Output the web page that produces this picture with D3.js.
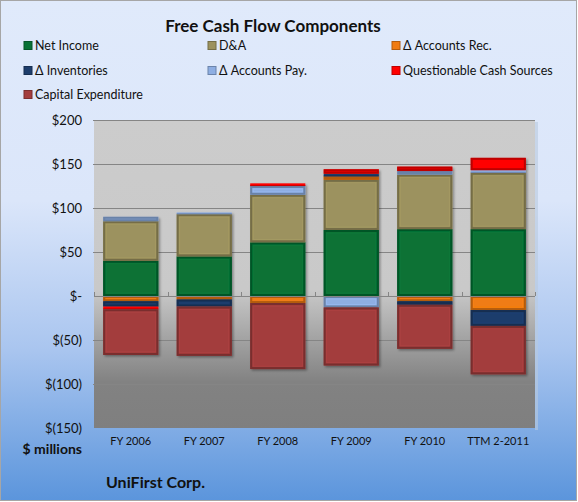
<!DOCTYPE html>
<html><head><meta charset="utf-8">
<script src="https://cdn.jsdelivr.net/npm/d3@7"></script>
<style>body{margin:0;background:#fff}svg{display:block}</style>
</head><body>
<script>
const categories = ["FY 2006","FY 2007","FY 2008","FY 2009","FY 2010","TTM 2-2011"];
const netIncome = [40, 45, 61, 75, 76, 76];
const depAmort = [45, 48, 54, 57, 62, 64];
const accountsRec = [-6, -4, -8, 4, -6, -16];
const inventories = [-6, -8, 0, 3, -4, -18];
const accountsPay = [5, 2, 10, -13, 4, 3];
const questionable = [-3, 0, 3, 5, 5, 14];
const capex = [-52, -56, -75, -66, -50, -55];
const seriesNames = ["Net Income","D&A","Δ Accounts Rec.","Δ Inventories","Δ Accounts Pay.","Questionable Cash Sources","Capital Expenditure"];
const seriesColors = ["#087236","#9c925e","#f07b12","#1d3d6c","#8eaee2","#ff0000","#a33d3d"];
const yTicks = [200,150,100,50,0,-50,-100,-150];
const yTickLabels = ["$200","$150","$100","$50","$-","$(50)","$(100)","$(150)"];

const W = 578, H = 502;
const font = "Lato, 'Open Sans', sans-serif";
const svg = d3.select("body").append("svg").attr("width", W).attr("height", H);
const defs = svg.append("defs");
const bg = defs.append("linearGradient").attr("id","bg").attr("x1",0).attr("y1",0).attr("x2",0).attr("y2",1);
[[0,"#e0eafb"],[0.4,"#dbe6fa"],[0.7,"#a9c5ef"],[1,"#5b95dc"]].forEach(s=>bg.append("stop").attr("offset",s[0]).attr("stop-color",s[1]));
const pg = defs.append("linearGradient").attr("id","pg").attr("x1",0).attr("y1",0).attr("x2",0).attr("y2",1);
[[0,"#cccccc"],[0.55,"#c9c9c9"],[0.85,"#828282"],[1,"#7f7f7f"]].forEach(s=>pg.append("stop").attr("offset",s[0]).attr("stop-color",s[1]));
const sh = defs.append("filter").attr("id","sh").attr("x","-10%").attr("y","-10%").attr("width","130%").attr("height","130%");
sh.append("feDropShadow").attr("dx",1.5).attr("dy",1.5).attr("stdDeviation",1.2).attr("flood-color","#000").attr("flood-opacity",0.35);

svg.append("rect").attr("x",0.5).attr("y",0.5).attr("width",W-2).attr("height",H-2)
  .attr("fill","url(#bg)").attr("stroke","#a6a6a6");

// title
svg.append("text").attr("x",273).attr("y",32).attr("text-anchor","middle")
  .attr("font-family",font).attr("font-weight","bold").attr("font-size",17).attr("fill","#111")
  .text("Free Cash Flow Components");

// legend
const legCols = [24, 208, 392], legRows = [45, 70, 94];
seriesNames.forEach((n,i)=>{
  const cx = legCols[i%3], cy = legRows[Math.floor(i/3)];
  svg.append("rect").attr("x",cx).attr("y",cy-3.5).attr("width",8).attr("height",8)
    .attr("fill",seriesColors[i]).attr("stroke",d3.color(seriesColors[i]).darker(0.8)).attr("stroke-width",1);
  svg.append("text").attr("x",cx+11).attr("y",cy+4.5).attr("font-family",font).attr("font-size",12.5)
    .attr("fill","#111").text(n);
});

const plot = {x0:94, x1:535, y0:120, y1:428};
const x = d3.scaleBand().domain(categories).range([plot.x0, plot.x1]).paddingInner(0.25).paddingOuter(0.125);
const y = d3.scaleLinear().domain([-150,200]).range([plot.y1, plot.y0]);

svg.append("rect").attr("x",plot.x1).attr("y",plot.y0+2).attr("width",3).attr("height",plot.y1-plot.y0)
  .attr("fill","#b9c9de").attr("opacity",0.6);
svg.append("rect").attr("x",plot.x0).attr("y",plot.y0).attr("width",plot.x1-plot.x0).attr("height",plot.y1-plot.y0)
  .attr("fill","url(#pg)");

// gridlines
svg.append("g").selectAll("line").data(yTicks.filter(v=>v!==0 && v!==-150)).join("line")
  .attr("x1",plot.x0-1).attr("x2",plot.x1).attr("y1",d=>y(d)+0.5).attr("y2",d=>y(d)+0.5)
  .attr("stroke","#858585").attr("stroke-width",1);

// y labels
const yAxis = d3.axisLeft(y).tickValues(yTicks).tickSize(0).tickPadding(0)
  .tickFormat((d,i)=>yTickLabels[yTicks.indexOf(d)]);
const ya = svg.append("g").attr("transform",`translate(82,0)`).call(yAxis);
ya.select(".domain").remove();
ya.selectAll("text").attr("font-family",font).attr("font-size",13).attr("fill","#111");

// bars
const rows = categories.map((c,i)=>({cat:c, s0:netIncome[i], s1:depAmort[i], s2:accountsRec[i], s3:inventories[i], s4:accountsPay[i], s5:questionable[i], s6:capex[i]}));
const keys = ["s0","s1","s2","s3","s4","s5","s6"];
const stack = d3.stack().keys(keys).order(d3.stackOrderNone).offset(d3.stackOffsetDiverging)(rows);
const bars = svg.append("g").attr("filter","url(#sh)");
stack.forEach((layer,li)=>{
  const col = seriesColors[li];
  layer.forEach(d=>{
    if (d[1]-d[0] === 0) return;
    const top = y(Math.max(d[0],d[1])), bot = y(Math.min(d[0],d[1]));
    const bx = x(d.data.cat), bw = x.bandwidth();
    bars.append("rect").attr("x",bx).attr("y",top).attr("width",bw).attr("height",bot-top)
      .attr("fill",col);
    const h = bot-top;
    if (h > 3) {
      bars.append("rect").attr("x",bx+1).attr("y",top+1).attr("width",bw-2).attr("height",h-2)
        .attr("fill","none").attr("stroke",d3.color(col).darker(1)).attr("stroke-width",2).attr("opacity",0.85);
      if (h > 8) {
        bars.append("rect").attr("x",bx+3).attr("y",top+3).attr("width",bw-6).attr("height",h-6)
          .attr("fill","none").attr("stroke",d3.color(col).brighter(0.3)).attr("stroke-width",0.8).attr("opacity",0.6);
      }
    } else {
      bars.append("line").attr("x1",bx).attr("x2",bx+bw).attr("y1",bot-0.4).attr("y2",bot-0.4)
        .attr("stroke",d3.color(col).darker(0.9)).attr("stroke-width",0.8);
    }
  });
});

// zero axis line with ticks
svg.append("line").attr("x1",plot.x0).attr("x2",plot.x1).attr("y1",y(0)+0.5).attr("y2",y(0)+0.5)
  .attr("stroke","#858585");
const bounds = categories.map(c=>x(c)-x.step()*x.paddingInner()/2).concat([plot.x1]);
svg.append("g").selectAll("line").data(bounds).join("line")
  .attr("x1",d=>Math.round(d)+0.5).attr("x2",d=>Math.round(d)+0.5).attr("y1",y(0)-4).attr("y2",y(0))
  .attr("stroke","#858585");
svg.append("line").attr("x1",plot.x0).attr("x2",plot.x1).attr("y1",plot.y0+0.5).attr("y2",plot.y0+0.5)
  .attr("stroke","#858585");

// x labels
const xAxis = d3.axisBottom(x).tickSize(0).tickPadding(0);
const xa = svg.append("g").attr("transform",`translate(0,${plot.y1+9})`).call(xAxis);
xa.select(".domain").remove();
xa.selectAll("text").attr("font-family",font).attr("font-size",11).attr("fill","#111").attr("dy","0.71em");

svg.append("text").attr("x",82).attr("y",454).attr("text-anchor","end").attr("font-family",font)
  .attr("font-weight","bold").attr("font-size",14).attr("fill","#111").text("$ millions");
svg.append("text").attr("x",106).attr("y",488).attr("font-family",font)
  .attr("font-weight","bold").attr("font-size",16).attr("fill","#111").text("UniFirst Corp.");
</script>
</body></html>
